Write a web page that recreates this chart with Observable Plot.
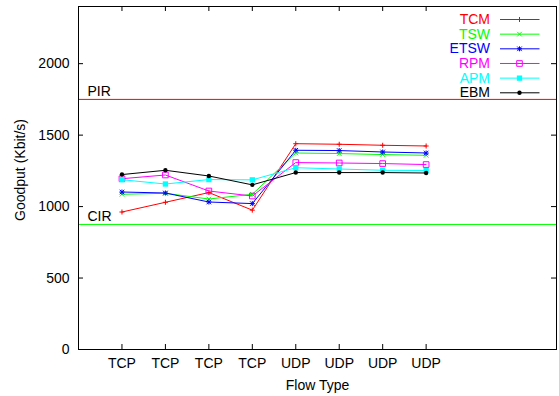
<!DOCTYPE html>
<html>
<head>
<meta charset="utf-8">
<script src="https://cdn.jsdelivr.net/npm/d3@7"></script>
<script src="https://cdn.jsdelivr.net/npm/@observablehq/plot@0.6"></script>
<style>
  html, body { margin: 0; padding: 0; background: white; }
</style>
</head>
<body>
<div id="chart"></div>
<script>
// ---- data ----
const positions = [1, 2, 3, 4, 5, 6, 7, 8];
const xLabels = ["TCP", "TCP", "TCP", "TCP", "UDP", "UDP", "UDP", "UDP"];
const seriesNames = ["TCM", "TSW", "ETSW", "RPM", "APM", "EBM"];
const seriesColors = ["#ff0000", "#00ff00", "#0000ff", "#ff00ff", "#00ffff", "#000000"];
const TCM  = [962, 1030, 1098, 975, 1440, 1436, 1429, 1424];
const TSW  = [1086, 1093, 1053, 1086, 1375, 1371, 1364, 1359];
const ETSW = [1102, 1095, 1032, 1021, 1394, 1392, 1382, 1375];
const RPM  = [1195, 1221, 1109, 1074, 1308, 1305, 1301, 1294];
const APM  = [1188, 1158, 1189, 1187, 1272, 1263, 1254, 1252];
const EBM  = [1224, 1254, 1214, 1152, 1238, 1238, 1238, 1235];
const levelNames = ["PIR", "CIR"];
const levelValues = [1750, 875];
const levelColors = ["#ff0000", "#00ff00"];
const yTicks = [0, 500, 1000, 1500, 2000];

// ---- build tables ----
const seriesValues = [TCM, TSW, ETSW, RPM, APM, EBM];
const data = [];
seriesNames.forEach((s, i) => positions.forEach((p, j) => data.push({series: s, x: p, y: seriesValues[i][j]})));
const levels = levelNames.map((n, i) => ({name: n, value: levelValues[i]}));

// marker styles per series: [symbol(s), r, filled]
const markerSpec = {
  TCM:  {symbols: [["plus", 1.75]], fill: false},
  TSW:  {symbols: [["times", 2.2]], fill: false},
  ETSW: {symbols: [["plus", 1.75], ["times", 2.2]], fill: false},
  RPM:  {symbols: [["square2", 3.6]], fill: false},
  APM:  {symbols: [["square", 3.0]], fill: true},
  EBM:  {symbols: [["circle", 2.2]], fill: true}
};

const W = 559, H = 396;
const mL = 78, mR = 3, mT = 6, mB = 47;
const plotW = W - mL - mR, plotH = H - mT - mB;

const marks = [];
// reference levels
levels.forEach((l, i) => {
  marks.push(Plot.ruleY([l], {y: "value", stroke: levelColors[i], strokeWidth: 1}));
});
marks.push(Plot.text(levels, {y: "value", text: "name", frameAnchor: "left", dx: 9, dy: -3,
  lineAnchor: "bottom", textAnchor: "start", fill: "black"}));
// series
seriesNames.forEach((s, i) => {
  const rows = data.filter(d => d.series === s);
  const c = seriesColors[i];
  marks.push(Plot.line(rows, {x: "x", y: "y", stroke: c, strokeWidth: 1}));
  const m = markerSpec[s];
  m.symbols.forEach(([sym, r]) => {
    marks.push(Plot.dot(rows, {x: "x", y: "y", symbol: () => sym, r,
      stroke: m.fill ? "none" : c, fill: m.fill ? c : "none", strokeWidth: 1}));
  });
});
// inward ticks (gnuplot style, mirrored)
marks.push(Plot.tickX(positions, {x: d => d, insetTop: plotH - 5, stroke: "black"}));
marks.push(Plot.tickX(positions, {x: d => d, insetBottom: plotH - 5, stroke: "black"}));
marks.push(Plot.tickY(yTicks, {y: d => d, insetRight: plotW - 5, stroke: "black"}));
marks.push(Plot.tickY(yTicks, {y: d => d, insetLeft: plotW - 5, stroke: "black"}));
marks.push(Plot.frame({stroke: "black", strokeWidth: 1}));
// axes
marks.push(Plot.axisX({ticks: positions, tickFormat: d => xLabels[positions.indexOf(d)],
  tickSize: 0, tickPadding: 9, label: null}));
marks.push(Plot.axisY({ticks: yTicks, tickFormat: d => String(d), tickSize: 0, tickPadding: 9, label: null}));
marks.push(Plot.text(["Flow Type"], {frameAnchor: "bottom", dy: 36.5, lineAnchor: "middle", textAnchor: "middle", fill: "black"}));
marks.push(Plot.text(["Goodput (Kbit/s)"], {frameAnchor: "left", dx: -58, dy: -8, rotate: -90,
  lineAnchor: "middle", textAnchor: "middle", fill: "black"}));

const chart = Plot.plot({
  width: W, height: H,
  marginLeft: mL, marginRight: mR, marginTop: mT, marginBottom: mB,
  style: {fontSize: "14px", fontFamily: "'Liberation Sans', Arial, Helvetica, sans-serif", background: "white", color: "black", overflow: "visible"},
  x: {type: "linear", domain: [0, 11], axis: null},
  y: {type: "linear", domain: [0, 2400], axis: null},
  marks
});
document.getElementById("chart").appendChild(chart);

// ---- legend (inside the plot, top-right) ----
const svg = d3.select(chart);
const lg = svg.append("g").attr("font-family", "'Liberation Sans', Arial, Helvetica, sans-serif").attr("font-size", 14);
const textRight = 490, lineX1 = 500, lineX2 = 539.5, markX = 519.5, row0 = 19, rowStep = 14.66;
const symMap = {plus: d3.symbolPlus, times: d3.symbolTimes, square: d3.symbolSquare, square2: d3.symbolSquare2, circle: d3.symbolCircle};
seriesNames.forEach((s, i) => {
  const cy = row0 + i * rowStep;
  const c = seriesColors[i];
  lg.append("text").attr("x", textRight).attr("y", cy).attr("dy", "0.35em")
    .attr("text-anchor", "end").attr("fill", c).text(s);
  lg.append("line").attr("x1", lineX1).attr("x2", lineX2).attr("y1", cy + 0.5).attr("y2", cy + 0.5)
    .attr("stroke", c).attr("stroke-width", 1);
  const m = markerSpec[s];
  m.symbols.forEach(([sym, r]) => {
    lg.append("path").attr("transform", `translate(${markX},${cy + 0.5})`)
      .attr("d", d3.symbol(symMap[sym], Math.PI * r * r)())
      .attr("fill", m.fill ? c : "none").attr("stroke", m.fill ? "none" : c).attr("stroke-width", 1);
  });
});
</script>
</body>
</html>
